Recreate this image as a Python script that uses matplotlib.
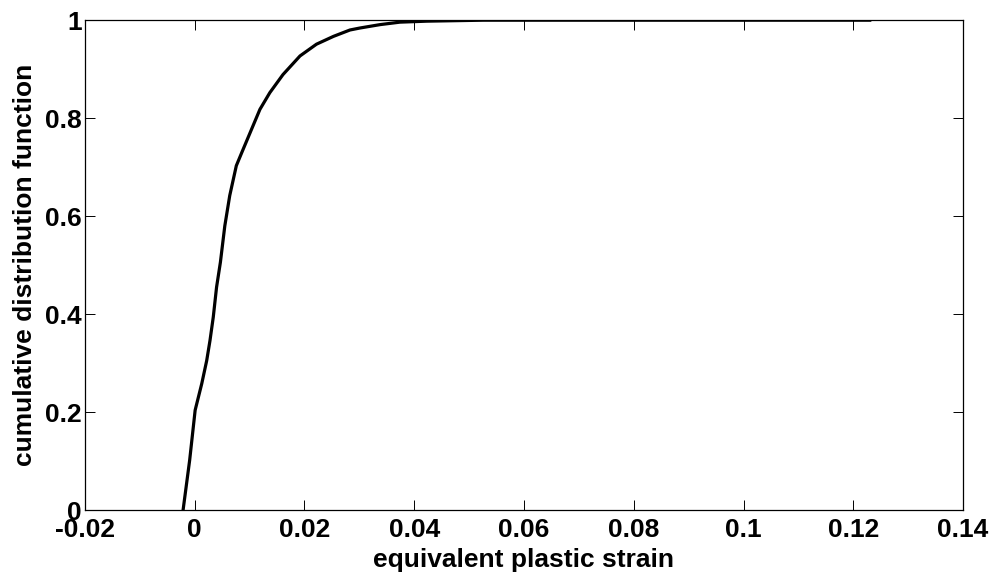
import matplotlib.pyplot as plt

strain = [-0.0021, -0.0009, 0.0001, 0.0013, 0.0022, 0.0028, 0.0034, 0.0040,
          0.0047, 0.0055, 0.0064, 0.0076, 0.0086, 0.0101, 0.0119, 0.0137,
          0.0161, 0.0192, 0.0222, 0.0253, 0.0283, 0.0301, 0.0338, 0.0374,
          0.0423, 0.0526, 0.0800, 0.1230]
cdf = [0.0, 0.102, 0.204, 0.258, 0.305, 0.346, 0.394, 0.455,
       0.506, 0.580, 0.642, 0.703, 0.730, 0.770, 0.818, 0.852,
       0.889, 0.927, 0.951, 0.967, 0.980, 0.984, 0.991, 0.996,
       0.998, 1.0, 1.0, 1.0]

xticks = [-0.02, 0, 0.02, 0.04, 0.06, 0.08, 0.1, 0.12, 0.14]
xticklabels = ['-0.02', '0', '0.02', '0.04', '0.06', '0.08', '0.1', '0.12', '0.14']
yticks = [0, 0.2, 0.4, 0.6, 0.8, 1]
yticklabels = ['0', '0.2', '0.4', '0.6', '0.8', '1']

plt.rcParams['font.family'] = ['Liberation Sans', 'DejaVu Sans']
plt.rcParams['font.weight'] = 'bold'

fig = plt.figure(figsize=(9.98, 5.77), dpi=100)
ax = fig.add_axes([0.085, 0.116, 0.880, 0.849])

ax.plot(strain, cdf, color='black', lw=2.3)

ax.set_xlim(-0.02, 0.14)
ax.set_ylim(0, 1)
ax.set_xticks(xticks)
ax.set_xticklabels(xticklabels)
ax.set_yticks(yticks)
ax.set_yticklabels(yticklabels)
ax.tick_params(direction='in', top=True, right=True, length=7, width=0.7,
               labelsize=19)
ax.tick_params(axis='x', pad=6)
ax.tick_params(axis='y', pad=2)
for sp in ax.spines.values():
    sp.set_linewidth(0.9)

ax.set_xlabel('equivalent plastic strain', fontsize=19, fontweight='bold', labelpad=4)
ax.set_ylabel('cumulative distribution function', fontsize=19, fontweight='bold', labelpad=6)

fig.savefig('out.png', dpi=100)
